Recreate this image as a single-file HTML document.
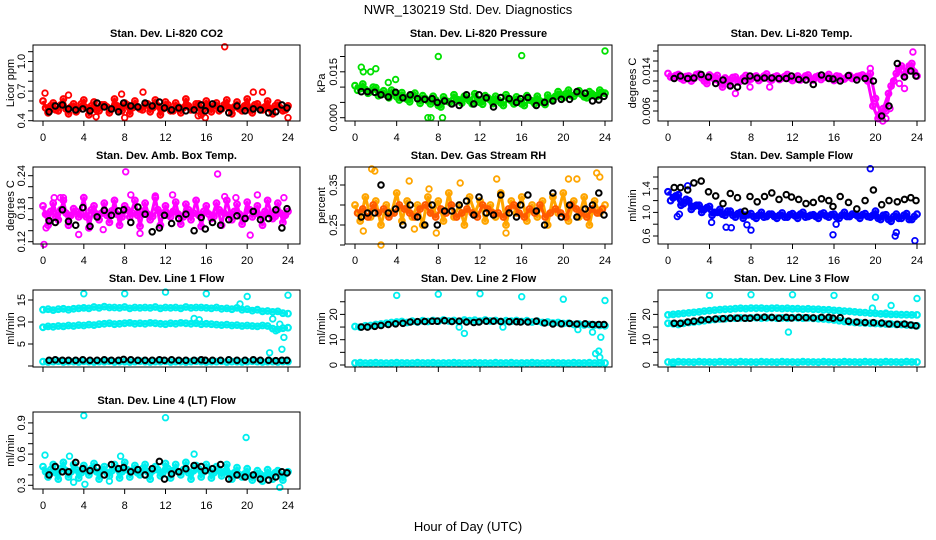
<!DOCTYPE html>
<html><head><meta charset="utf-8"><style>
html,body{margin:0;padding:0;background:#fff;}
svg{display:block;font-family:"Liberation Sans",sans-serif;}
</style></head><body>
<svg id="chart" width="936" height="540" viewBox="0 0 936 540">
<rect width="936" height="540" fill="#fff"/>
<text x="468" y="14" text-anchor="middle" font-size="13">NWR_130219  Std. Dev. Diagnostics</text>
<text x="468" y="531" text-anchor="middle" font-size="13">Hour of Day (UTC)</text>
<g id="panels"></g>
</svg>
<script>
const blackH=[0.6,1.2,1.9,2.5,3.2,3.9,4.6,5.3,6.0,6.7,7.4,7.9,8.6,9.3,10.0,10.7,11.4,11.9,12.6,13.3,14.0,14.8,15.5,15.9,16.6,17.4,18.2,19.0,19.8,20.6,21.3,22.1,22.8,23.4,23.9];
const xTicks=[0,4,8,12,16,20,24];
// CO2
const co2A=[0.60,0.48,0.58,0.50,0.62,0.47,0.57,0.52,0.61,0.46,0.59,0.50,0.56,0.48,0.62,0.51,0.58,0.47,0.60,0.52,0.57,0.49,0.61,0.46,0.59,0.50,0.58,0.48,0.62,0.51,0.57,0.46,0.60,0.49,0.58,0.52,0.61,0.47,0.59,0.50,0.62,0.48,0.57,0.51,0.60,0.47,0.58,0.50,0.55];
const co2B=[0.53,0.55,0.51,0.56,0.52,0.54,0.49,0.57,0.53,0.55,0.51,0.56,0.54,0.52,0.55,0.50,0.56,0.53,0.54,0.51,0.57,0.53,0.55,0.52,0.56,0.50,0.54,0.53,0.55,0.51,0.57,0.52,0.54,0.55,0.50,0.56,0.53,0.54,0.52,0.55,0.51,0.56,0.53,0.54,0.52,0.55,0.53,0.51];
const co2XH=[0.2,2.5,7.7,9.8,15.2,17.8,20.6,21.5,24.0,5.2,8.0,15.9];
const co2XV=[0.68,0.66,0.67,0.69,0.45,1.15,0.69,0.69,0.43,0.44,0.43,0.43];
const co2K=[0.49,0.55,0.56,0.52,0.51,0.52,0.50,0.58,0.54,0.52,0.49,0.58,0.55,0.54,0.58,0.55,0.59,0.53,0.51,0.53,0.50,0.51,0.56,0.50,0.57,0.52,0.48,0.55,0.50,0.52,0.51,0.48,0.49,0.56,0.53];
// Pressure
const presA=[0.0105,0.0095,0.0092,0.0085,0.0098,0.0080,0.0075,0.0090,0.0068,0.0082,0.0060,0.0075,0.0062,0.0072,0.0055,0.0070,0.0040,0.0068,0.0052,0.0075,0.0058,0.0070,0.0055,0.0078,0.0050,0.0072,0.0058,0.0070,0.0048,0.0075,0.0055,0.0068,0.0045,0.0072,0.0055,0.0070,0.0050,0.0074,0.0060,0.0085,0.0065,0.0090,0.0070,0.0088,0.0068,0.0085,0.0072,0.0090,0.0080];
const presB=[0.0090,0.0110,0.0080,0.0100,0.0072,0.0088,0.0065,0.0080,0.0058,0.0065,0.0052,0.0080,0.0047,0.0062,0.0045,0.0058,0.0035,0.0055,0.0046,0.0060,0.0048,0.0063,0.0045,0.0060,0.0044,0.0065,0.0046,0.0058,0.0040,0.0062,0.0045,0.0055,0.0040,0.0058,0.0046,0.0055,0.0043,0.0062,0.0070,0.0075,0.0078,0.0072,0.0080,0.0076,0.0065,0.0078,0.0070,0.0082];
const presXH=[0.6,0.8,1.5,2.0,3.9,7.0,7.3,8.0,8.4,16.0,24.0,3.2];
const presXV=[0.0165,0.0150,0.0150,0.0160,0.0125,0.0000,0.0000,0.0200,0.0000,0.0203,0.0218,0.0115];
const presK=[0.0085,0.0085,0.0083,0.0075,0.0068,0.0083,0.0065,0.0075,0.0062,0.0060,0.0062,0.0050,0.0055,0.0045,0.0040,0.0075,0.0045,0.0075,0.0065,0.0035,0.0066,0.0062,0.0050,0.0062,0.0066,0.0040,0.0050,0.0055,0.0060,0.0060,0.0085,0.0080,0.0055,0.0058,0.0070];
// Li-820 Temp
const tempA=[0.0135,0.0128,0.0133,0.0122,0.0130,0.0125,0.0134,0.0120,0.0132,0.0123,0.0118,0.0126,0.0112,0.0128,0.0120,0.0131,0.0124,0.0130,0.0125,0.0134,0.0122,0.0130,0.0126,0.0133,0.0121,0.0130,0.0125,0.0132,0.0122,0.0130,0.0127,0.0133,0.0121,0.0129,0.0124,0.0131,0.0126,0.0130,0.0128,0.0135,0.0085,0.0055,0.0060,0.0110,0.0135,0.0150,0.0140,0.0155,0.0130];
const tempB=[0.0128,0.0131,0.0125,0.0129,0.0120,0.0133,0.0126,0.0115,0.0128,0.0131,0.0108,0.0122,0.0127,0.0118,0.0126,0.0122,0.0128,0.0121,0.0130,0.0124,0.0128,0.0123,0.0129,0.0125,0.0127,0.0122,0.0130,0.0124,0.0128,0.0123,0.0129,0.0125,0.0130,0.0124,0.0128,0.0125,0.0129,0.0132,0.0120,0.0070,0.0045,0.0065,0.0095,0.0120,0.0145,0.0130,0.0150,0.0138];
const tempXH=[6.5,7.9,9.8,19.5,20.4,20.7,21.0,21.4,22.8,23.3,23.6,24.0,22.3];
const tempXV=[0.0095,0.0108,0.0108,0.0145,0.0050,0.0040,0.0045,0.0065,0.0105,0.0150,0.0178,0.0130,0.0115];
const tempK=[0.0125,0.0130,0.0125,0.0126,0.0133,0.0128,0.0115,0.0122,0.0110,0.0108,0.0120,0.0130,0.0126,0.0126,0.0126,0.0125,0.0125,0.0130,0.0123,0.0122,0.0113,0.0132,0.0125,0.0124,0.0120,0.0131,0.0122,0.0125,0.0120,0.0050,0.0070,0.0155,0.0128,0.0140,0.0130];
// Amb box temp
const ambA=[0.185,0.150,0.190,0.160,0.195,0.150,0.180,0.165,0.200,0.145,0.185,0.160,0.190,0.155,0.195,0.150,0.185,0.165,0.195,0.148,0.190,0.160,0.200,0.150,0.185,0.165,0.192,0.152,0.188,0.160,0.195,0.148,0.185,0.162,0.190,0.150,0.195,0.160,0.188,0.152,0.192,0.165,0.185,0.150,0.195,0.162,0.190,0.155,0.175];
const ambB=[0.170,0.175,0.165,0.178,0.172,0.168,0.175,0.170,0.165,0.178,0.170,0.172,0.168,0.176,0.170,0.165,0.178,0.172,0.168,0.175,0.170,0.166,0.178,0.172,0.168,0.175,0.170,0.165,0.178,0.172,0.168,0.175,0.170,0.166,0.178,0.172,0.168,0.175,0.170,0.165,0.178,0.172,0.168,0.175,0.170,0.166,0.172,0.168];
const ambXH=[0.1,0.3,1.1,1.7,3.5,5.9,8.1,8.6,9.5,11.0,12.7,17.1,17.8,18.9,20.3,21.0,23.6,2.0];
const ambXV=[0.115,0.145,0.200,0.200,0.133,0.142,0.247,0.205,0.135,0.203,0.205,0.243,0.202,0.200,0.132,0.205,0.200,0.200];
const ambK=[0.158,0.155,0.178,0.157,0.150,0.182,0.148,0.165,0.177,0.168,0.176,0.178,0.155,0.183,0.170,0.138,0.145,0.168,0.153,0.162,0.170,0.140,0.164,0.143,0.155,0.150,0.160,0.167,0.162,0.175,0.160,0.162,0.178,0.145,0.180];
// Gas stream RH
const rhA=[0.30,0.26,0.32,0.27,0.31,0.25,0.30,0.28,0.33,0.26,0.31,0.27,0.30,0.25,0.32,0.28,0.31,0.26,0.33,0.27,0.30,0.25,0.32,0.28,0.31,0.26,0.30,0.27,0.33,0.25,0.31,0.28,0.32,0.26,0.30,0.27,0.31,0.25,0.32,0.28,0.33,0.26,0.31,0.27,0.32,0.25,0.31,0.28,0.30];
const rhB=[0.28,0.29,0.27,0.30,0.28,0.29,0.27,0.28,0.30,0.29,0.28,0.27,0.29,0.30,0.28,0.27,0.29,0.28,0.30,0.27,0.28,0.29,0.28,0.27,0.30,0.29,0.28,0.28,0.27,0.29,0.30,0.28,0.27,0.29,0.28,0.30,0.27,0.28,0.29,0.28,0.27,0.30,0.29,0.28,0.27,0.29,0.28,0.29];
const rhXH=[1.6,1.9,2.5,5.2,7.1,7.8,10.1,13.6,14.5,20.5,21.3,23.2,23.5,0.8,5.7];
const rhXV=[0.39,0.385,0.20,0.36,0.34,0.23,0.355,0.365,0.23,0.365,0.365,0.38,0.37,0.235,0.24];
const rhK=[0.27,0.28,0.28,0.35,0.28,0.29,0.25,0.30,0.27,0.25,0.30,0.25,0.285,0.285,0.30,0.31,0.275,0.32,0.28,0.275,0.325,0.28,0.27,0.30,0.325,0.285,0.25,0.33,0.27,0.30,0.27,0.29,0.30,0.33,0.275];
// Sample flow
const sfA=[1.35,1.25,1.30,1.15,1.20,1.10,1.12,1.05,1.10,1.00,1.05,0.95,1.02,0.92,1.00,0.95,0.98,0.90,1.00,0.93,0.97,0.90,0.99,0.92,0.98,0.90,1.00,0.93,0.96,0.90,0.99,0.92,0.97,0.90,1.00,0.93,0.97,0.90,0.98,0.92,1.02,0.88,0.96,0.85,0.97,0.90,0.98,0.88,0.97];
const sfB=[1.20,1.28,1.12,1.22,1.05,1.12,1.00,1.08,0.95,1.00,0.97,1.02,0.95,0.98,0.90,0.96,0.93,0.95,0.92,0.97,0.93,0.95,0.92,0.96,0.94,0.97,0.92,0.95,0.93,0.97,0.94,0.96,0.92,0.95,0.93,0.97,0.94,0.96,0.93,0.95,0.90,0.95,0.88,0.93,0.90,0.95,0.88,0.93];
const sfXH=[0.9,1.1,4.2,5.6,6.1,7.6,8.0,15.9,16.2,19.5,21.9,22.0,23.8,1.9];
const sfXV=[0.93,0.97,0.83,0.75,0.74,0.79,0.70,0.62,0.80,1.74,0.60,0.66,0.52,1.45];
const sfK=[1.42,1.42,1.38,1.50,1.53,1.35,1.28,1.15,1.32,1.25,1.02,1.27,1.18,1.27,1.33,1.22,1.30,1.26,1.22,1.15,1.17,1.23,1.20,1.10,1.27,1.17,1.06,1.20,1.38,1.13,1.20,1.18,1.22,1.25,1.20];
// Line 1 flow
const l1A=[12.8,12.9,12.7,12.9,13.0,12.8,13.0,13.1,13.2,13.1,13.4,13.2,13.5,13.3,13.3,13.2,13.4,13.1,13.3,13.2,13.3,13.2,13.4,13.1,13.3,13.2,13.3,13.1,13.4,13.2,13.3,13.3,13.2,13.1,13.3,13.0,13.1,12.9,13.2,12.8,12.9,12.6,12.8,12.4,12.5,12.3,12.4,12.0,11.9];
const l1B=[8.8,9.0,8.9,9.1,9.0,9.2,9.1,9.3,9.2,9.4,9.3,9.5,9.6,9.7,9.5,9.6,9.7,9.8,9.6,9.7,9.6,9.8,9.7,9.6,9.5,9.7,9.6,9.8,9.7,9.6,9.7,9.5,9.6,9.5,9.4,9.3,9.4,9.2,9.3,9.1,9.2,9.1,9.0,9.2,9.1,8.5,8.3,8.6,8.7];
const l1C=[1.0,0.9,1.0,1.1,0.9,1.0,1.0,0.9,1.1,1.0,0.9,1.0,1.0,1.1,0.9,1.0,1.0,0.9,1.0,1.1,1.0,0.9,1.0,1.0,1.1,0.9,1.0,1.0,0.9,1.0,1.1,1.0,0.9,1.0,1.0,1.1,0.9,1.0,1.0,0.9,1.0,1.1,1.0,0.9,1.0,1.0,0.9,1.0,1.0];
const l1XH=[4.0,8.0,12.0,16.0,20.0,24.0,19.3,22.2,22.5,22.8,23.2,23.4,23.6,14.8,15.3];
const l1XV=[16.4,16.4,16.8,16.4,15.8,16.1,14.1,3.0,10.7,8.0,9.5,3.8,6.5,10.8,10.5];
const l1K=[1.3,1.4,1.3,1.3,1.3,1.4,1.3,1.3,1.4,1.3,1.3,1.5,1.4,1.3,1.3,1.3,1.4,1.3,1.4,1.3,1.3,1.3,1.4,1.3,1.3,1.3,1.4,1.3,1.3,1.4,1.3,1.3,1.2,1.3,1.3];
// Line 2 flow
const l2A=[15.2,15.0,15.5,15.6,16.0,16.2,16.5,16.8,17.0,17.2,16.8,17.3,17.0,17.5,17.2,17.6,17.3,17.8,17.4,17.6,17.2,17.8,17.5,17.7,17.3,17.8,17.4,17.6,17.2,17.5,17.3,17.6,17.2,17.5,17.0,17.3,16.8,17.0,16.6,16.8,16.4,16.5,16.0,16.2,15.8,16.0,15.8,15.6,15.5];
const l2B=[0.8,0.9,0.7,0.8,0.9,0.8,0.7,0.8,0.9,0.8,0.8,0.7,0.9,0.8,0.8,0.9,0.7,0.8,0.8,0.9,0.8,0.7,0.8,0.9,0.8,0.8,0.7,0.9,0.8,0.8,0.9,0.7,0.8,0.8,0.9,0.8,0.7,0.8,0.9,0.8,0.8,0.7,0.9,0.8,0.8,0.9,0.7,0.8,0.8];
const l2XH=[4.0,8.0,12.0,16.0,20.0,24.0,10.5,22.8,23.1,23.4,23.6,23.5,10.0,14.2,21.4];
const l2XV=[27.5,28.0,28.2,27.0,26.0,25.5,12.5,13.0,4.5,5.5,11.0,3.0,15.0,15.0,14.0];
const l2K=[15.0,15.0,15.3,15.6,16.0,16.3,16.5,17.0,17.1,17.2,17.3,17.3,17.5,17.2,17.3,17.0,16.8,17.0,17.3,17.3,17.2,17.1,17.1,17.0,17.0,17.3,16.6,16.2,16.3,16.4,16.2,16.3,16.0,16.0,16.0];
// Line 3 flow
const l3A=[19.8,20.0,20.2,20.4,20.6,20.8,21.0,21.3,21.5,21.7,21.9,22.0,22.1,22.3,22.4,22.3,22.5,22.4,22.5,22.3,22.4,22.5,22.3,22.4,22.2,22.3,22.1,22.2,22.0,22.0,21.8,21.8,21.6,21.5,21.3,21.2,21.0,20.8,20.7,20.5,20.4,20.2,20.1,20.0,20.0,19.9,19.9,19.8,19.8];
const l3B=[16.5,16.3,16.0,16.5,16.8,17.0,17.2,17.5,17.8,18.0,18.2,18.3,18.4,18.5,18.6,18.5,18.6,18.7,18.5,18.6,18.7,18.5,18.6,18.5,18.7,18.6,18.5,18.6,18.4,18.3,18.2,18.0,17.8,17.5,17.2,17.0,16.8,16.7,16.6,16.5,16.4,16.3,16.2,16.2,16.0,16.0,15.8,15.7,15.5];
const l3C=[1.2,1.1,1.3,1.2,1.2,1.1,1.3,1.2,1.2,1.1,1.3,1.2,1.2,1.1,1.3,1.2,1.2,1.1,1.3,1.2,1.2,1.1,1.3,1.2,1.2,1.1,1.3,1.2,1.2,1.1,1.3,1.2,1.2,1.1,1.3,1.2,1.2,1.1,1.3,1.2,1.2,1.1,1.3,1.2,1.2,1.1,1.3,1.2,1.2];
const l3XH=[4.0,8.0,12.0,16.0,20.0,24.0,11.6,19.7,21.5,21.0,0.5];
const l3XV=[27.5,27.8,27.8,27.5,26.8,26.3,13.0,22.5,23.5,20.5,0.5];
const l3K=[16.5,16.5,17.0,17.3,17.8,18.0,18.2,18.3,18.5,18.5,18.5,18.5,18.8,18.9,18.8,18.5,18.8,18.6,18.8,18.7,18.6,18.8,18.8,18.5,18.7,17.3,17.0,16.8,16.7,16.6,16.2,16.1,16.2,15.8,15.5];
// Line 4 flow
const l4A=[0.48,0.38,0.50,0.36,0.52,0.38,0.50,0.37,0.49,0.40,0.51,0.36,0.48,0.39,0.50,0.37,0.52,0.38,0.49,0.40,0.50,0.36,0.48,0.39,0.51,0.37,0.50,0.40,0.52,0.36,0.49,0.38,0.50,0.37,0.48,0.39,0.50,0.36,0.47,0.38,0.46,0.35,0.44,0.34,0.45,0.36,0.44,0.35,0.43];
const l4B=[0.43,0.45,0.42,0.46,0.44,0.43,0.45,0.42,0.44,0.46,0.43,0.45,0.42,0.44,0.46,0.43,0.45,0.44,0.42,0.46,0.43,0.44,0.45,0.42,0.46,0.44,0.43,0.45,0.42,0.44,0.46,0.43,0.45,0.42,0.44,0.43,0.41,0.42,0.40,0.41,0.39,0.40,0.41,0.39,0.40,0.42,0.40,0.41];
const l4XH=[0.2,4.0,4.1,12.0,19.9,14.8,2.6,7.6,23.2,3.0,6.5];
const l4XV=[0.59,0.97,0.31,0.95,0.76,0.60,0.58,0.58,0.28,0.33,0.34];
const l4K=[0.40,0.48,0.43,0.43,0.52,0.46,0.44,0.47,0.40,0.50,0.46,0.47,0.43,0.45,0.40,0.46,0.53,0.36,0.41,0.43,0.46,0.49,0.48,0.44,0.46,0.50,0.36,0.40,0.38,0.40,0.36,0.35,0.38,0.43,0.42];

const NS='http://www.w3.org/2000/svg';
const root=document.getElementById('panels');
const cols=[{l:33,r:300,x0:43,x24:288,yl:10,tl:21},{l:345,r:612,x0:355,x24:605,yl:321,tl:333},{l:658,r:925,x0:668,x24:917,yl:632,tl:646}];
const rows=[{t:45,b:121},{t:167,b:244},{t:290,b:367},{t:412,b:489}];
function mk(tag,parent){const e=document.createElementNS(NS,tag);parent.appendChild(e);return e;}
function panel(p){
  const c=cols[p.col],rw=rows[p.row];
  const g=mk('g',root);
  
  
  const xs=h=>c.x0+(c.x24-c.x0)*h/24;
  const ys=v=>p.py-(v-p.v0)*p.k;
  const t=mk('text',g);
  
  
  t.setAttribute('x',(c.l+c.r)/2);t.setAttribute('y',rw.t-8);t.setAttribute('text-anchor','middle');
  t.setAttribute('font-size','11');t.setAttribute('font-weight','bold');t.textContent=p.title;
  const yl=mk('text',g);
  
  
  const ym=(rw.t+rw.b)/2;
  yl.setAttribute('transform','translate('+(c.yl+4)+','+ym+') rotate(-90)');yl.setAttribute('text-anchor','middle');yl.setAttribute('font-size','11');yl.textContent=p.ylab;
  const dots=(hs,vs,col,name,sw)=>{vs.forEach((v,i)=>{const h=hs?hs[i]:i*(24/(vs.length-1));
    const ci=mk('circle',g);
    
    
    ci.setAttribute('cx',xs(h).toFixed(1));ci.setAttribute('cy',ys(v).toFixed(1));ci.setAttribute('r','2.8');
    ci.setAttribute('fill','none');ci.setAttribute('stroke',col);ci.setAttribute('stroke-width',sw);});};
  // dense cloud: zig-zag trace through each series plus markers
  p.series.forEach(s=>{
    const hs=s.v.map((_,i)=>s.off?0.25+i*0.5:i*(24/(s.v.length-1)));
    const pl=mk('polyline',g);
    
    
    pl.setAttribute('points',s.v.map((v,i)=>xs(hs[i]).toFixed(1)+','+ys(v).toFixed(1)).join(' '));
    pl.setAttribute('fill','none');pl.setAttribute('stroke',s.c);pl.setAttribute('stroke-width','3');pl.setAttribute('stroke-linejoin','round');
    dots(hs,s.v,s.c,p.id+'-point',2.2);
  });
  dots(p.xh,p.xv,p.xc,p.id+'-outlier',1.8);
  dots(blackH,p.kv,'#000',p.id+'-black-point',2);
  const bx=mk('rect',g);
  
  
  bx.setAttribute('x',c.l);bx.setAttribute('y',rw.t);bx.setAttribute('width',c.r-c.l);bx.setAttribute('height',rw.b-rw.t);bx.setAttribute('fill','none');bx.setAttribute('stroke','#000');
  xTicks.forEach(h=>{const x=xs(h);
    const tk=mk('line',g);
    
    
    tk.setAttribute('x1',x);tk.setAttribute('x2',x);tk.setAttribute('y1',rw.b);tk.setAttribute('y2',rw.b+5);tk.setAttribute('stroke','#000');
    if(p.row===3||p.row<2){const tl=mk('text',g);
    
    
    tl.setAttribute('x',x);tl.setAttribute('y',rw.b+20);tl.setAttribute('text-anchor','middle');tl.setAttribute('font-size','11');tl.textContent=h;}
  });
  p.ticks.forEach(v=>{const y=ys(v);
    const tk=mk('line',g);
    
    
    tk.setAttribute('x1',c.l-5);tk.setAttribute('x2',c.l);tk.setAttribute('y1',y);tk.setAttribute('y2',y);tk.setAttribute('stroke','#000');});
  p.labels.forEach((s,i)=>{const y=ys(p.lv[i]);
    const tl=mk('text',g);
    
    
    tl.setAttribute('transform','translate('+(c.tl+4)+','+y+') rotate(-90)');tl.setAttribute('text-anchor','middle');tl.setAttribute('font-size','11');tl.textContent=s;});
}
const R='#ff0000',G='#00e000',M='#ff00ff',B='#0000ff',C='#00eeee';
panel({id:'co2',col:0,row:0,title:'Stan. Dev. Li-820 CO2',ylab:'Licor ppm',v0:0.4,py:120.7,k:98.6,ticks:[0.4,0.5,0.6,0.7,0.8,0.9,1.0,1.1],labels:['0.4','0.7','1.0'],lv:[0.4,0.7,1.0],series:[{v:co2A,c:R},{v:co2B,c:R,off:1}],xh:co2XH,xv:co2XV,xc:R,kv:co2K});
panel({id:'pressure',col:1,row:0,title:'Stan. Dev. Li-820 Pressure',ylab:'kPa',v0:0,py:117.7,k:3060,ticks:[0,0.005,0.01,0.015,0.02],labels:['0.000','0.015'],lv:[0,0.015],series:[{v:presA,c:G},{v:presB,c:G,off:1}],xh:presXH,xv:presXV,xc:G,kv:presK});
panel({id:'li820-temp',col:2,row:0,title:'Stan. Dev. Li-820 Temp.',ylab:'degrees C',v0:0.006,py:111,k:5000,ticks:[0.006,0.008,0.010,0.012,0.014,0.016,0.018],labels:['0.006','0.014'],lv:[0.006,0.014],series:[{v:tempA,c:M},{v:tempB,c:M,off:1}],xh:tempXH,xv:tempXV,xc:M,kv:tempK});
panel({id:'amb-box-temp',col:0,row:1,title:'Stan. Dev. Amb. Box Temp.',ylab:'degrees C',v0:0.12,py:241.7,k:550,ticks:[0.12,0.14,0.16,0.18,0.20,0.22,0.24],labels:['0.12','0.18','0.24'],lv:[0.12,0.18,0.24],series:[{v:ambA,c:M},{v:ambB,c:M,off:1}],xh:ambXH,xv:ambXV,xc:M,kv:ambK});
panel({id:'gas-rh',col:1,row:1,title:'Stan. Dev. Gas Stream RH',ylab:'percent',v0:0.25,py:225,k:400,ticks:[0.20,0.25,0.30,0.35],labels:['0.25','0.35'],lv:[0.25,0.35],series:[{v:rhA,c:'#ffa500'},{v:rhB,c:'#ff5a00',off:1}],xh:rhXH,xv:rhXV,xc:'#ffa500',kv:rhK});
panel({id:'sample-flow',col:2,row:1,title:'Stan. Dev. Sample Flow',ylab:'ml/min',v0:0.6,py:236,k:59,ticks:[0.6,0.8,1.0,1.2,1.4,1.6],labels:['0.6','1.0','1.4'],lv:[0.6,1.0,1.4],series:[{v:sfA,c:B},{v:sfB,c:B,off:1}],xh:sfXH,xv:sfXV,xc:B,kv:sfK});
panel({id:'line1-flow',col:0,row:2,title:'Stan. Dev. Line 1 Flow',ylab:'ml/min',v0:0,py:366,k:4.4,ticks:[0,5,10,15],labels:['5','10','15'],lv:[5,10,15],series:[{v:l1A,c:C},{v:l1B,c:C},{v:l1C,c:C}],xh:l1XH,xv:l1XV,xc:C,kv:l1K});
panel({id:'line2-flow',col:1,row:2,title:'Stan. Dev. Line 2 Flow',ylab:'ml/min',v0:0,py:365,k:2.53,ticks:[0,5,10,15,20,25],labels:['0','10','20'],lv:[0,10,20],series:[{v:l2A,c:C},{v:l2B,c:C}],xh:l2XH,xv:l2XV,xc:C,kv:l2K});
panel({id:'line3-flow',col:2,row:2,title:'Stan. Dev. Line 3 Flow',ylab:'ml/min',v0:0,py:365,k:2.53,ticks:[0,5,10,15,20,25],labels:['0','10','20'],lv:[0,10,20],series:[{v:l3A,c:C},{v:l3B,c:C},{v:l3C,c:C}],xh:l3XH,xv:l3XV,xc:C,kv:l3K});
panel({id:'line4-flow',col:0,row:3,title:'Stan. Dev. Line 4 (LT) Flow',ylab:'ml/min',v0:0.3,py:485.3,k:104,ticks:[0.3,0.4,0.5,0.6,0.7,0.8,0.9],labels:['0.3','0.6','0.9'],lv:[0.3,0.6,0.9],series:[{v:l4A,c:C},{v:l4B,c:C,off:1}],xh:l4XH,xv:l4XV,xc:C,kv:l4K});
</script>
</body></html>
